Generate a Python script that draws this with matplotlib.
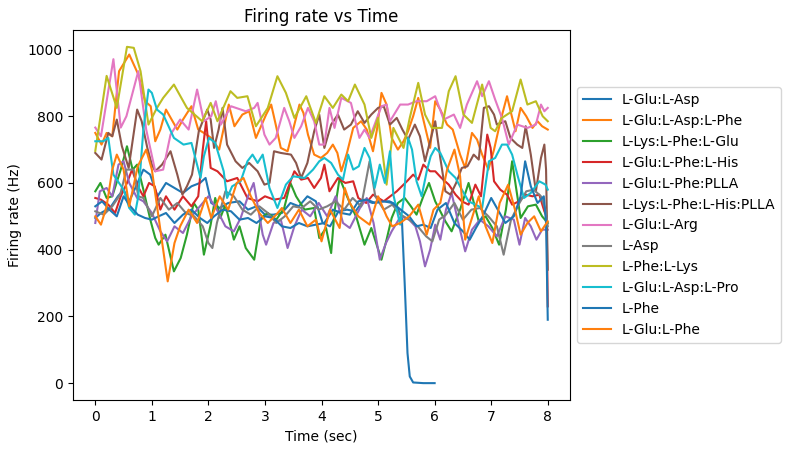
import matplotlib
matplotlib.use("Agg")
import matplotlib.pyplot as plt

labels = ["L-Glu:L-Asp", "L-Glu:L-Asp:L-Phe", "L-Lys:L-Phe:L-Glu", "L-Glu:L-Phe:L-His",
          "L-Glu:L-Phe:PLLA", "L-Lys:L-Phe:L-His:PLLA", "L-Glu:L-Arg", "L-Asp",
          "L-Phe:L-Lys", "L-Glu:L-Asp:L-Pro", "L-Phe", "L-Glu:L-Phe"]

t_glu_asp = [0, .1, .26, .4, .5, .6, .72, .85, .97, 1.1, 1.25, 1.4, 1.55, 1.7, 1.85, 1.95, 2.05, 2.2, 2.35, 2.55,
             2.7, 2.85, 3.0, 3.15, 3.3, 3.45, 3.6, 3.75, 3.9, 4.02, 4.15, 4.3, 4.45, 4.6, 4.75, 4.9, 5.05, 5.2, 5.32, 5.42,
             5.47, 5.52, 5.56, 5.62, 5.8, 6.0]
v_glu_asp = [495, 510, 525, 560, 580, 545, 590, 640, 625, 560, 600, 585, 570, 590, 600, 615, 540, 525, 540, 545,
             520, 530, 505, 505, 510, 540, 530, 560, 545, 480, 470, 515, 520, 515, 550, 540, 545, 545, 535, 495,
             300, 90, 20, 2, 0, 0]

t_glu_asp_phe = [0, .11, .2, .3, .42, .6, .76, .88, .98, 1.06, 1.15, 1.25, 1.35, 1.45, 1.55, 1.7, 1.82, 1.92, 2.05, 2.19,
                 2.36, 2.46, 2.6, 2.72, 2.84, 2.93, 3.02, 3.11, 3.19, 3.28, 3.4, 3.52, 3.61, 3.68, 3.76, 3.87, 3.99, 4.1, 4.2, 4.28,
                 4.35, 4.45, 4.56, 4.7, 4.8, 4.91, 4.98, 5.06, 5.15, 5.24, 5.35, 5.45, 5.53, 5.62, 5.71, 5.8, 5.92, 6.01, 6.1, 6.22,
                 6.32, 6.45, 6.54, 6.66, 6.75, 6.84, 6.95, 7.05, 7.17, 7.28, 7.35, 7.43, 7.52, 7.62, 7.73, 7.82, 7.9, 8.0]
v_glu_asp_phe = [750, 715, 750, 740, 935, 985, 925, 845, 830, 725, 760, 820, 790, 760, 790, 830, 760, 750, 735, 700,
                 835, 770, 805, 815, 735, 770, 805, 835, 775, 705, 695, 775, 835, 810, 745, 685, 675, 690, 715, 690,
                 635, 690, 765, 785, 760, 695, 760, 870, 835, 735, 700, 725, 755, 800, 855, 790, 705, 845, 820, 775,
                 760, 685, 645, 750, 730, 685, 640, 700, 790, 860, 810, 755, 825, 800, 765, 785, 770, 760]

t_lys_phe_glu = [0, .09, .2, .3, .45, .56, .66, .74, .85, .98, 1.06, 1.12, 1.24, 1.39, 1.51, 1.62, 1.74, 1.82, 1.92, 2.04,
                 2.12, 2.21, 2.3, 2.45, 2.55, 2.66, 2.81, 2.93, 3.05, 3.2, 3.34, 3.45, 3.55, 3.7, 3.87, 3.96, 4.08, 4.17, 4.23, 4.32,
                 4.45, 4.62, 4.76, 4.88, 5.06, 5.15, 5.24, 5.35, 5.47, 5.58, 5.68, 5.8, 5.9, 6.01, 6.19, 6.3, 6.45, 6.6, 6.78, 6.9,
                 7.02, 7.14, 7.26, 7.37, 7.52, 7.65, 7.79, 7.9, 8.0]
v_lys_phe_glu = [575, 600, 555, 560, 640, 710, 640, 655, 580, 485, 435, 415, 445, 335, 375, 445, 540, 520, 385, 475,
                 555, 495, 535, 430, 470, 405, 370, 495, 510, 490, 525, 600, 560, 520, 525, 435, 465, 390, 515, 615,
                 560, 495, 415, 465, 370, 430, 495, 540, 555, 530, 505, 560, 600, 545, 485, 455, 520, 600, 485, 500,
                 465, 415, 520, 665, 495, 530, 535, 500, 480]

t_glu_phe_his = [0, .1, .23, .35, .45, .56, .65, .75, .85, .95, 1.05, 1.15, 1.25, 1.4, 1.55, 1.7, 1.82, 1.9, 1.96, 2.04,
                 2.16, 2.33, 2.51, 2.69, 2.87, 3.0, 3.16, 3.34, 3.52, 3.64, 3.76, 3.87, 3.99, 4.05, 4.14, 4.29, 4.42, 4.56, 4.65, 4.79,
                 4.91, 5.1, 5.33, 5.51, 5.62, 5.71, 5.8, 5.92, 6.01, 6.12, 6.25, 6.37, 6.48, 6.6, 6.72, 6.82, 6.93, 6.99, 7.05, 7.16,
                 7.28, 7.37, 7.49, 7.61, 7.73, 7.85, 7.94, 7.98, 8.0]
v_glu_phe_his = [555, 550, 535, 510, 560, 600, 640, 590, 560, 600, 590, 520, 560, 520, 560, 530, 560, 700, 785, 645,
                 635, 605, 615, 555, 545, 560, 550, 555, 635, 610, 615, 585, 615, 655, 575, 615, 600, 605, 555, 540,
                 565, 545, 575, 605, 625, 610, 655, 635, 635, 615, 595, 565, 545, 535, 595, 560, 745, 705, 605, 580,
                 565, 535, 545, 565, 560, 565, 515, 500, 230]

t_glu_phe_plla = [0, .08, .2, .3, .41, .5, .6, .74, .85, 1.0, 1.15, 1.27, 1.4, 1.55, 1.7, 1.85, 2.0, 2.15, 2.3, 2.45,
                  2.57, 2.7, 2.8, 2.96, 3.02, 3.15, 3.28, 3.4, 3.52, 3.65, 3.8, 3.95, 4.1, 4.25, 4.38, 4.5, 4.68, 4.8, 4.92, 5.03,
                  5.14, 5.24, 5.4, 5.55, 5.66, 5.74, 5.83, 5.92, 6.01, 6.1, 6.2, 6.3, 6.42, 6.54, 6.66, 6.8, 6.95,
                  7.1, 7.25, 7.4, 7.5, 7.6, 7.7, 7.8, 7.9, 8.0]
v_glu_phe_plla = [480, 575, 585, 560, 655, 665, 600, 555, 545, 510, 455, 425, 470, 450, 500, 530, 560, 520, 470, 455,
                  495, 560, 600, 445, 415, 480, 490, 405, 470, 520, 500, 540, 500, 560, 480, 465, 525, 555, 480, 370,
                  420, 455, 500, 490, 470, 425, 350, 400, 475, 430, 520, 570, 480, 395, 460, 490, 470,
                  440, 500, 490, 415, 495, 470, 430, 460, 460]

t_lys_phe_his_plla = [0, .11, .23, .3, .38, .47, .59, .74, .82, .92, 1.0, 1.06, 1.18, 1.33, 1.45, 1.54, 1.62, 1.71, 1.83, 1.98,
                      2.04, 2.1, 2.18, 2.25, 2.33, 2.48, 2.6, 2.72, 2.87, 2.99, 3.08, 3.16, 3.28, 3.46, 3.55, 3.64, 3.75, 3.87, 3.96, 4.05,
                      4.17, 4.29, 4.4, 4.52, 4.64, 4.76, 4.88, 5.0, 5.1, 5.21, 5.33, 5.43, 5.53, 5.65, 5.74, 5.83, 5.92, 6.01, 6.1, 6.19,
                      6.28, 6.38, 6.48, 6.58, 6.69, 6.78, 6.87, 6.96, 7.05, 7.1, 7.25, 7.34, 7.46, 7.55, 7.61, 7.7, 7.79, 7.88, 7.94, 7.97,
                      8.0]
v_lys_phe_his_plla = [690, 670, 750, 740, 790, 710, 645, 820, 785, 705, 655, 635, 655, 695, 625, 565, 590, 625, 755, 820,
                      790, 705, 760, 825, 715, 665, 645, 660, 635, 595, 600, 695, 690, 685, 660, 615, 660, 755, 805, 705,
                      775, 805, 760, 775, 815, 780, 805, 825, 830, 775, 795, 760, 730, 775, 740, 665, 725, 785, 675, 575,
                      565, 600, 645, 650, 685, 670, 825, 830, 805, 775, 785, 735, 715, 705, 770, 685, 575, 675, 715, 640,
                      340]

t_glu_arg = [0, .1, .32, .45, .55, .76, .9, 1.06, 1.2, 1.33, 1.5, 1.65, 1.8, 1.92, 2.05, 2.13, 2.22, 2.4, 2.66, 2.81,
             2.87, 2.99, 3.08, 3.19, 3.34, 3.43, 3.52, 3.64, 3.76, 3.87, 3.96, 4.05, 4.14, 4.23, 4.35, 4.52, 4.67, 4.76, 4.85, 5.06,
             5.15, 5.21, 5.39, 5.53, 5.68, 5.86, 6.01, 6.16, 6.34, 6.45, 6.57, 6.75, 6.84, 6.96, 7.07, 7.19, 7.31, 7.46, 7.64, 7.79,
             7.88, 7.94, 8.0]
v_glu_arg = [766, 740, 971, 766, 800, 935, 760, 635, 640, 745, 790, 760, 880, 785, 800, 845, 775, 830, 815, 825,
             840, 745, 715, 735, 825, 785, 735, 770, 825, 785, 715, 715, 825, 765, 855, 840, 735, 760, 735, 830,
             835, 785, 835, 835, 845, 845, 860, 790, 805, 765, 835, 905, 860, 905, 850, 795, 715, 775, 765, 775,
             835, 815, 825]

t_asp = [0, .15, .3, .44, .55, .68, .76, .85, 1.0, 1.15, 1.3, 1.45, 1.6, 1.75, 1.9, 2.0, 2.07, 2.15, 2.3, 2.45,
         2.6, 2.75, 2.9, 3.05, 3.2, 3.35, 3.5, 3.65, 3.8, 3.95, 4.1, 4.25, 4.4, 4.55, 4.7, 4.85, 4.95, 5.1, 5.25, 5.4,
         5.55, 5.7, 5.85, 5.96, 6.08, 6.2, 6.35, 6.5, 6.65, 6.8, 6.95, 7.1, 7.22, 7.35, 7.5, 7.62, 7.75, 7.88, 7.96, 8.0]
v_asp = [515, 505, 530, 565, 640, 640, 560, 555, 500, 555, 520, 540, 510, 500, 470, 420, 405, 480, 575, 560,
         520, 505, 530, 510, 480, 500, 530, 525, 545, 520, 530, 545, 520, 555, 530, 665, 560, 520, 535, 505,
         490, 470, 440, 425, 490, 505, 540, 490, 520, 525, 500, 470, 385, 490, 540, 575, 580, 560, 520, 470]

t_phe_lys = [0, .2, .38, .56, .68, .8, .94, 1.09, 1.2, 1.39, 1.62, 1.89, 2.04, 2.16, 2.39, 2.51, 2.69, 2.84, 3.05, 3.22,
             3.37, 3.52, 3.73, 3.9, 4.05, 4.2, 4.35, 4.47, 4.59, 4.76, 4.88, 5.0, 5.15, 5.27, 5.45, 5.56, 5.71, 5.83, 5.95, 6.13,
             6.25, 6.37, 6.51, 6.66, 6.84, 6.99, 7.07, 7.19, 7.37, 7.52, 7.64, 7.79, 7.91, 8.0]
v_phe_lys = [696, 921, 825, 1008, 1005, 935, 775, 825, 855, 895, 825, 785, 840, 785, 875, 855, 860, 770, 825, 920,
             870, 795, 860, 780, 860, 825, 865, 845, 895, 835, 735, 795, 595, 765, 705, 795, 900, 805, 765, 765,
             875, 920, 805, 780, 895, 765, 755, 795, 815, 910, 835, 845, 800, 785]

t_glu_asp_pro = [0, .14, .23, .32, .38, .5, .6, .7, .76, .85, .94, 1.0, 1.09, 1.2, 1.39, 1.56, 1.7, 1.86, 1.92, 2.01,
                 2.12, 2.27, 2.33, 2.42, 2.57, 2.69, 2.78, 2.87, 2.96, 3.08, 3.22, 3.37, 3.5, 3.7, 3.85, 3.96, 4.05, 4.17, 4.29, 4.38,
                 4.47, 4.56, 4.66, 4.76, 4.85, 4.94, 5.03, 5.12, 5.21, 5.27, 5.39, 5.46, 5.53, 5.6, 5.68, 5.77, 5.86, 5.93, 6.01, 6.1,
                 6.25, 6.37, 6.48, 6.6, 6.72, 6.84, 6.96, 7.07, 7.19, 7.28, 7.37, 7.47, 7.58, 7.7, 7.85, 7.96, 8.0]
v_glu_asp_pro = [725, 725, 735, 625, 610, 580, 525, 505, 560, 760, 880, 870, 820, 805, 735, 715, 720, 615, 680, 735,
                 720, 635, 555, 590, 605, 665, 685, 660, 685, 585, 525, 595, 620, 615, 640, 665, 675, 660, 625, 610,
                 685, 640, 650, 705, 675, 585, 655, 600, 695, 565, 475, 560, 735, 700, 605, 560, 635, 680, 705, 690,
                 635, 615, 580, 545, 535, 525, 665, 675, 715, 715, 685, 620, 555, 570, 605, 595, 580]

t_phe = [0, .12, .25, .38, .5, .62, .75, .88, 1.0, 1.12, 1.25, 1.4, 1.55, 1.7, 1.85, 1.98, 2.1, 2.25, 2.4, 2.55,
         2.7, 2.85, 3.0, 3.15, 3.3, 3.45, 3.6, 3.75, 3.9, 4.05, 4.2, 4.35, 4.5, 4.65, 4.8, 4.95, 5.1, 5.25, 5.4, 5.55,
         5.68, 5.8, 5.93, 6.05, 6.2, 6.35, 6.5, 6.62, 6.73, 6.85, 7.0, 7.1, 7.25, 7.4, 7.52, 7.6, 7.7, 7.82, 7.93, 7.97,
         8.0]
v_phe = [530, 545, 520, 500, 560, 530, 505, 495, 490, 500, 510, 480, 505, 520, 495, 480, 500, 520, 515, 490,
         495, 480, 500, 495, 470, 465, 480, 470, 475, 480, 520, 510, 505, 545, 550, 540, 545, 540, 520, 500,
         470, 475, 465, 520, 540, 480, 455, 430, 465, 500, 555, 525, 480, 500, 560, 665, 590, 540, 560, 480,
         190]

t_glu_phe = [0, .1, .2, .3, .38, .5, .6, .75, .9, 1.0, 1.1, 1.2, 1.28, 1.4, 1.5, 1.65, 1.8, 1.95, 2.05, 2.2,
             2.35, 2.5, 2.62, 2.75, 2.9, 3.05, 3.2, 3.3, 3.45, 3.6, 3.75, 3.9, 4.0, 4.15, 4.32, 4.41, 4.5, 4.65, 4.85, 5.0,
             5.15, 5.25, 5.39, 5.55, 5.71, 5.86, 5.98, 6.1, 6.22, 6.35, 6.45, 6.54, 6.66, 6.78, 6.9, 7.02, 7.15, 7.3, 7.42, 7.52,
             7.64, 7.76, 7.88, 8.0]
v_glu_phe = [500, 475, 530, 640, 685, 640, 530, 650, 700, 640, 520, 400, 305, 420, 470, 520, 480, 555, 495, 560,
             520, 600, 615, 560, 510, 480, 505, 525, 480, 520, 470, 490, 425, 520, 465, 585, 540, 500, 475, 560,
             500, 470, 480, 500, 535, 445, 520, 540, 640, 700, 620, 430, 495, 560, 470, 420, 540, 595, 520, 445,
             480, 500, 455, 485]

series = [
    (t_glu_asp, v_glu_asp), (t_glu_asp_phe, v_glu_asp_phe), (t_lys_phe_glu, v_lys_phe_glu),
    (t_glu_phe_his, v_glu_phe_his), (t_glu_phe_plla, v_glu_phe_plla), (t_lys_phe_his_plla, v_lys_phe_his_plla),
    (t_glu_arg, v_glu_arg), (t_asp, v_asp), (t_phe_lys, v_phe_lys), (t_glu_asp_pro, v_glu_asp_pro),
    (t_phe, v_phe), (t_glu_phe, v_glu_phe),
]

fig = plt.figure(figsize=(7.9, 4.55), dpi=100)
ax = fig.add_axes([0.092, 0.121, 0.630, 0.813])
for (tt, vv), lab in zip(series, labels):
    n = min(len(tt), len(vv))
    ax.plot(tt[:n], vv[:n], label=lab, linewidth=1.5)

ax.set_title("Firing rate vs Time")
ax.set_xlabel("Time (sec)")
ax.set_ylabel("Firing rate (Hz)")
ax.legend(loc="center left", bbox_to_anchor=(1.0, 0.5))
fig.savefig("out.png", dpi=100)
